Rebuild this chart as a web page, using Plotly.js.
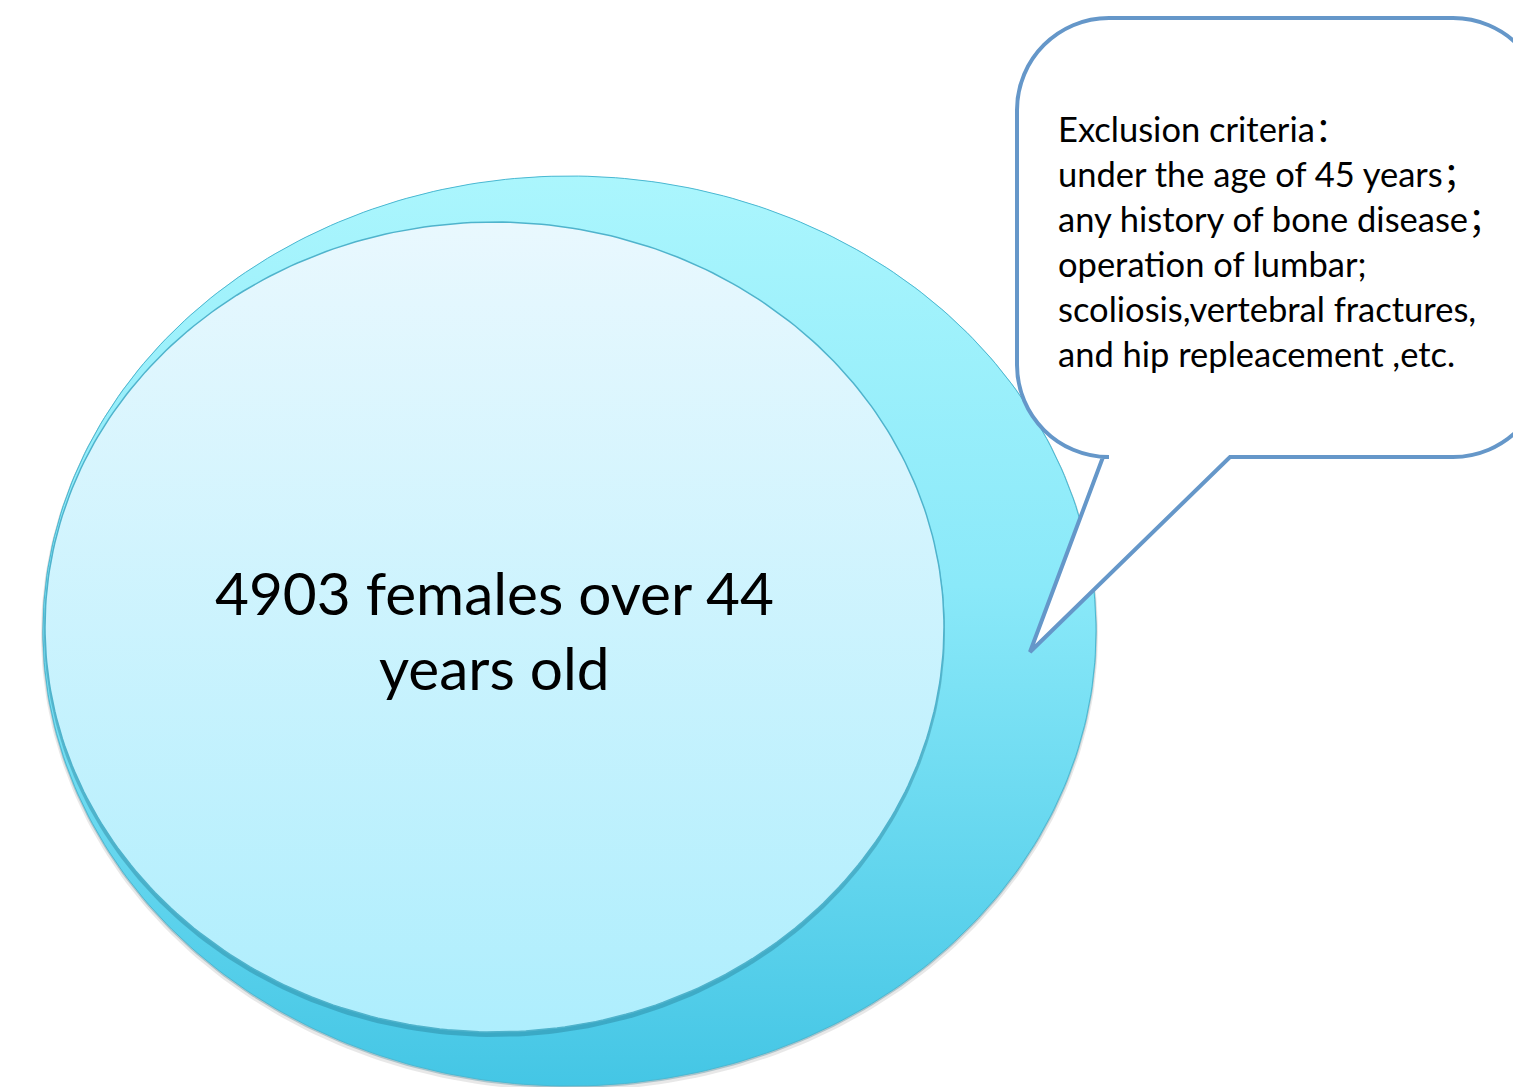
<!DOCTYPE html>
<html>
<head>
<meta charset="utf-8">
<script src="https://cdn.plot.ly/plotly-3.0.1.min.js"></script>
<style>
  html, body { margin: 0; padding: 0; background: #ffffff; }
  #plot { width: 1513px; height: 1087px; }
</style>
</head>
<body>
<div id="plot"></div>
<script>
// Text content of the diagram
const cohortLines = ['4903 females over 44', 'years old'];
const exclusionLines = [
  'Exclusion criteria：',
  'under the age of 45 years；',
  'any history of bone disease；',
  'operation of lumbar;',
  'scoliosis,vertebral fractures,',
  'and hip repleacement ,etc.'
];

const W = 1513, H = 1087;

// Parametric outline of an ellipse in page-pixel coordinates
function ellipse(cx, cy, rx, ry, n) {
  const xs = [], ys = [];
  for (let i = 0; i <= n; i++) {
    const t = 2 * Math.PI * i / n;
    xs.push(cx + rx * Math.cos(t));
    ys.push(cy + ry * Math.sin(t));
  }
  return { x: xs, y: ys };
}

const outer = { cx: 569.5, cy: 631, rx: 526.5, ry: 455 };
const inner = { cx: 494.5, cy: 627, rx: 449.5, ry: 405 };

function blob(e, dx, dy, grow, fill, line, extra) {
  const p = ellipse(e.cx + dx, e.cy + dy, e.rx + grow, e.ry + grow, 360);
  return Object.assign({
    type: 'scatter', mode: 'lines', x: p.x, y: p.y,
    fill: 'toself', fillcolor: fill,
    line: line || { width: 0, color: 'rgba(0,0,0,0)' },
    hoverinfo: 'skip', showlegend: false
  }, extra || {});
}

const traces = [
  // soft drop shadow of the large ellipse
  blob(outer, 0, 3, 2, 'rgba(90,90,90,0.14)'),
  blob(outer, 0, 1, 1, 'rgba(60,130,150,0.35)'),
  // large ellipse, vertical cyan gradient
  blob(outer, 0, 0, 0, '#7fe3f6', { width: 1, color: '#49b9d3' }, {
    fillgradient: {
      type: 'vertical', start: outer.cy - outer.ry, stop: outer.cy + outer.ry,
      colorscale: [[0, '#abf6fd'], [0.45, '#8ae9f9'], [1, '#44c6e5']]
    }
  }),
  // shadow cast by the inner ellipse
  blob(inner, 0, 4, 1, 'rgba(30,110,135,0.35)'),
  // inner ellipse
  blob(inner, 0, 0, 0, '#cdf3fd', { width: 1.5, color: '#4fb3cc' }, {
    fillgradient: {
      type: 'vertical', start: inner.cy - inner.ry, stop: inner.cy + inner.ry,
      colorscale: [[0, '#e9f8fe'], [1, '#aeeefd']]
    }
  })
];

// Speech-bubble outline: rounded rectangle with a pointer towards the ellipse
const bx0 = 1017, bx1 = 1545, by0 = 18, by1 = 457, r = 92, k = 0.5523 * r;
const bubblePath = [
  `M ${bx0 + r},${by0}`,
  `L ${bx1 - r},${by0}`,
  `C ${bx1 - r + k},${by0} ${bx1},${by0 + r - k} ${bx1},${by0 + r}`,
  `L ${bx1},${by1 - r}`,
  `C ${bx1},${by1 - r + k} ${bx1 - r + k},${by1} ${bx1 - r},${by1}`,
  `L 1230,${by1}`,
  `L 1030,652`,
  `L 1103,${by1}`,
  `L ${bx0 + r},${by1}`,
  `C ${bx0 + r - k},${by1} ${bx0},${by1 - r + k} ${bx0},${by1 - r}`,
  `L ${bx0},${by0 + r}`,
  `C ${bx0},${by0 + r - k} ${bx0 + r - k},${by0} ${bx0 + r},${by0}`,
  'Z'
].join(' ');

const shapes = [{
  type: 'path', path: bubblePath, xref: 'x', yref: 'y', layer: 'above',
  fillcolor: '#ffffff', line: { color: '#6597c9', width: 4 }
}];

const annotations = [];
cohortLines.forEach((t, i) => {
  annotations.push({
    text: t, x: 494, y: 592 + i * 75, xref: 'x', yref: 'y',
    xanchor: 'center', yanchor: 'middle', showarrow: false,
    font: { family: 'Lato, "Noto Sans", sans-serif', size: 58.5, color: '#000000' }
  });
});
exclusionLines.forEach((t, i) => {
  annotations.push({
    text: t, x: 1056, y: 128 + i * 45, xref: 'x', yref: 'y',
    xanchor: 'left', yanchor: 'middle', showarrow: false,
    font: { family: 'Lato, "Noto Sans CJK SC", sans-serif', size: 34.5, color: '#000000' }
  });
});

const layout = {
  width: W, height: H,
  margin: { l: 0, r: 0, t: 0, b: 0, pad: 0 },
  paper_bgcolor: '#ffffff', plot_bgcolor: '#ffffff',
  xaxis: { range: [0, W], visible: false, fixedrange: true },
  yaxis: { range: [H, 0], visible: false, fixedrange: true },
  shapes: shapes,
  annotations: annotations,
  showlegend: false
};

Plotly.newPlot('plot', traces, layout, { displayModeBar: false, staticPlot: true });
</script>
</body>
</html>
